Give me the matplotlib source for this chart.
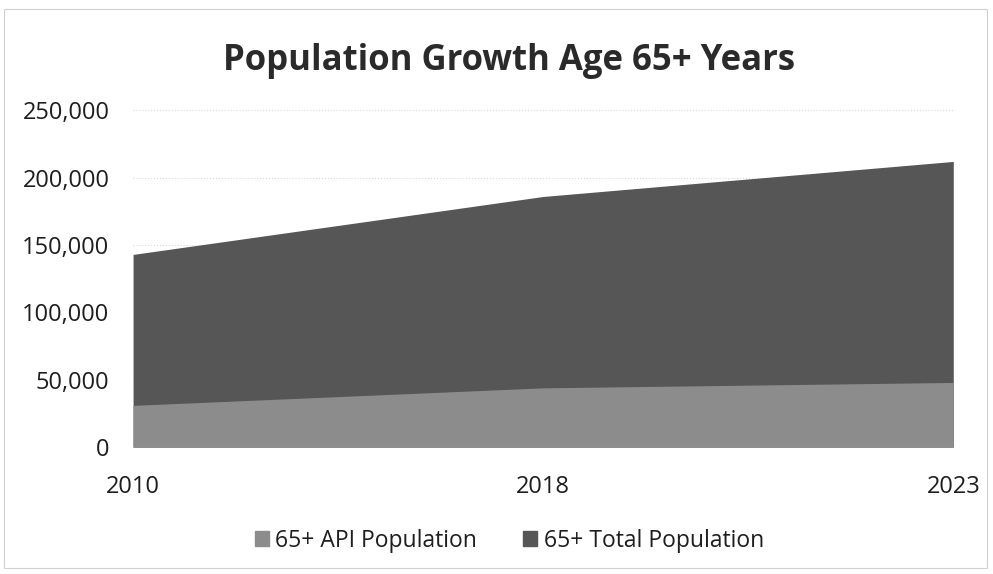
import matplotlib.pyplot as plt
from matplotlib.patches import Patch

plt.rcParams['font.family'] = ['Open Sans', 'DejaVu Sans']

years = ["2010", "2018", "2023"]
api_pop = [31000, 44000, 48000]
total_pop = [143000, 186000, 212000]
y_ticks = [0, 50000, 100000, 150000, 200000, 250000]

fig = plt.figure(figsize=(9.93, 5.74), dpi=100)
ax = fig.add_axes([0.134, 0.221, 0.826, 0.587])

x = range(len(years))
ax.fill_between(x, 0, total_pop, color='#565656', lw=0, zorder=2)
ax.fill_between(x, 0, api_pop, color='#8c8c8c', lw=0, zorder=3)

ax.set_xlim(0, len(years) - 1)
ax.set_ylim(0, 250000)
ax.set_yticks(y_ticks)
ax.set_yticklabels([f"{v:,}" for v in y_ticks])
ax.set_xticks(list(x))
ax.set_xticklabels(years)
ax.grid(axis='y', color='#d9d9d9', lw=0.8, ls=':', zorder=0)
ax.tick_params(axis='both', length=0, labelsize=17, colors='#1e1e1e')
ax.tick_params(axis='y', pad=17)
ax.tick_params(axis='x', pad=20)
for s in ax.spines.values():
    s.set_visible(False)
ax.axhline(0, color='#bfbfbf', lw=0.8, zorder=4)

fig.text(0.513, 0.893, "Population Growth Age 65+ Years", ha='center', va='center',
         fontsize=25, fontweight='bold', color='#2a2a2a')

handles = [Patch(color='#8c8c8c', label='65+ API Population'),
           Patch(color='#565656', label='65+ Total Population')]
fig.legend(handles=handles, loc='center', bbox_to_anchor=(0.513, 0.058), ncol=2,
           frameon=False, fontsize=16.5, handlelength=0.6, handleheight=0.6,
           handletextpad=0.3, columnspacing=2.0, labelcolor='#1e1e1e')

fig.patches.append(plt.Rectangle((0.004, 0.01), 0.99, 0.975, transform=fig.transFigure,
                                 fill=False, ec='#d0d0d0', lw=0.8))

fig.savefig("out.png", dpi=100)
